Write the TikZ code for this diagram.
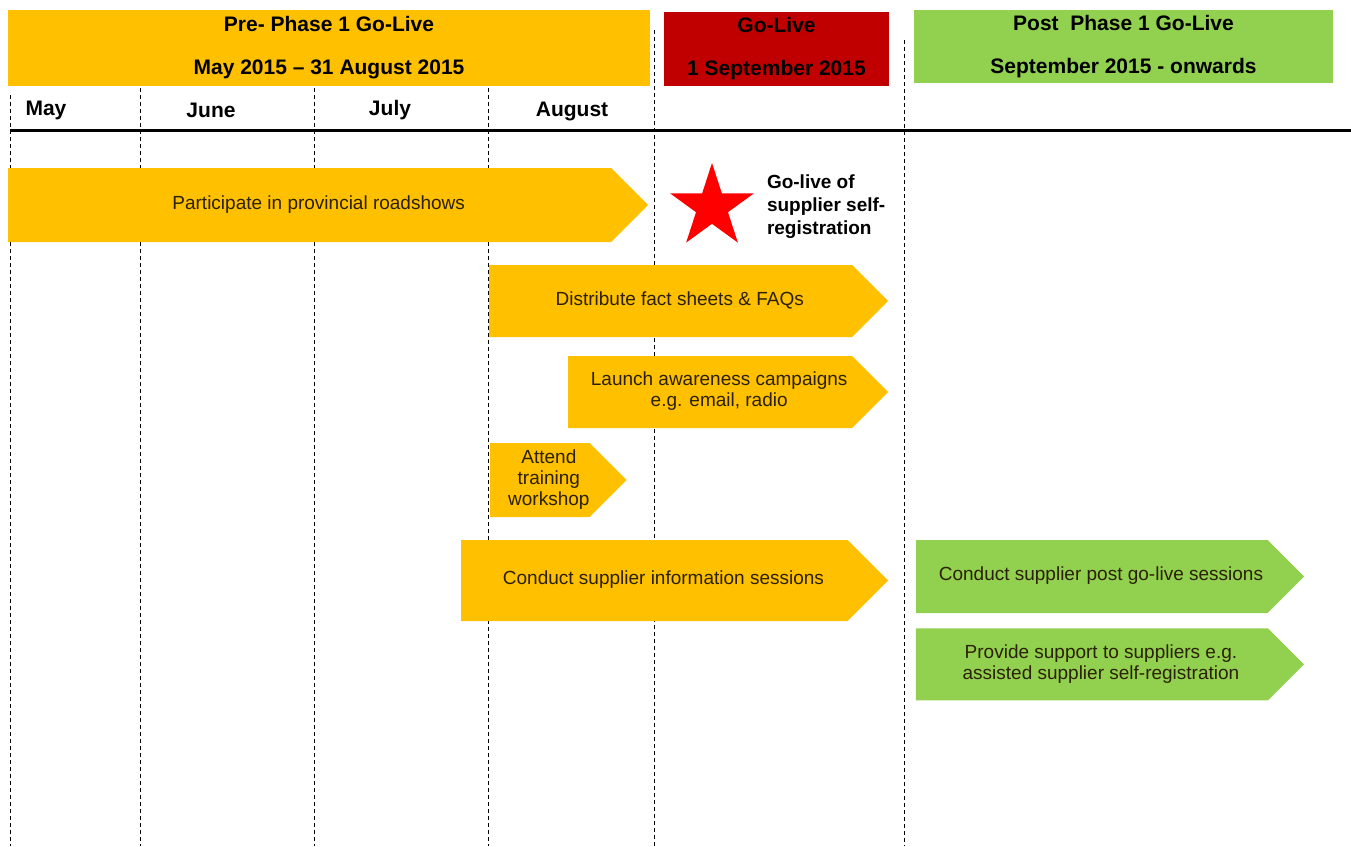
\documentclass[tikz,border=0pt]{standalone}
\usepackage{fontspec}
\setmainfont{Liberation Sans}
\usetikzlibrary{shapes, positioning}
\definecolor{phaseyellow}{HTML}{FFC000}
\definecolor{golivered}{HTML}{C00000}
\definecolor{postgreen}{HTML}{92D050}
\definecolor{tasktext}{HTML}{2B2100}
\newcommand{\tasklines}[1]{\hspace*{18pt}\begin{tabular}{@{}c@{}}#1\end{tabular}}

\begin{document}
\begin{tikzpicture}[x=1pt, y=-1pt, node distance=15pt,
    header/.style={rectangle, inner sep=0pt, align=center, font=\bfseries\fontsize{21}{43}\selectfont},
    month/.style={font=\bfseries\fontsize{21}{24}\selectfont},
    task/.style={signal, signal to=east, signal pointer angle=90, inner sep=0pt, text=tasktext, font=\fontsize{19}{21}\selectfont},
    grid/.style={dash pattern=on 4pt off 3pt, thin}]
    \useasboundingbox (0,0) rectangle (1351,846);

    % phase headers
    \node (pre) [header, fill=phaseyellow, minimum width=642pt, minimum height=76pt] at (329,48) {Pre- Phase 1 Go-Live\\May 2015 – 31 August 2015};
    \node (golive) [header, fill=golivered, minimum width=225pt, minimum height=74pt] at (776.5,49) {Go-Live\\1 September 2015};
    \node (post) [header, fill=postgreen, minimum width=419pt, minimum height=73pt] at (1123.5,46.5) {Post\ \ Phase 1 Go-Live\\September 2015 - onwards};

    % months
    \node (may) [month, anchor=west] at (22,110) {May};
    \node (june) [month] at (211,110) {June};
    \node (july) [month] at (390,110) {July};
    \node (aug) [month] at (572,111) {August};
    \draw [line width=3pt] (10,130) -- (1351,130);

    % month dividers
    \draw [grid] (10,95) -- (10,846);
    \draw [grid] (140,88) -- (140,846);
    \draw [grid] (314,88) -- (314,846);
    \draw [grid] (488,88) -- (488,846);
    \draw [grid] (654,30) -- (654,846);
    \draw [grid] (904,40) -- (904,846);

    % tasks
    \node (roadshows) [task, fill=phaseyellow, minimum width=640pt, minimum height=74pt, anchor=west] at (8,205) {\tasklines{Participate in provincial roadshows}};
    \node (star) [star, star points=5, star point ratio=2.618, fill=red, minimum size=88pt, inner sep=0pt] at (712,207) {};
    \node (starlabel) [right=28pt of star, align=left, font=\bfseries\fontsize{19}{23}\selectfont] {Go-live of\\supplier self-\\registration};
    \node (facts) [task, fill=phaseyellow, minimum width=399pt, minimum height=72pt, anchor=west] at (489,301) {\tasklines{Distribute fact sheets \& FAQs}};
    \node (campaigns) [task, fill=phaseyellow, minimum width=320pt, minimum height=72pt, anchor=west] at (568,392) {\tasklines{Launch awareness campaigns\\e.g. email, radio}};
    \node (training) [task, fill=phaseyellow, minimum width=133pt, minimum height=74pt, anchor=west] at (490,480) {\tasklines{Attend\\training\\workshop}};
    \node (infosessions) [task, fill=phaseyellow, minimum width=427pt, minimum height=81pt, anchor=west] at (461,580.5) {\tasklines{Conduct supplier information sessions}};
    \node (postsessions) [task, fill=postgreen, minimum width=388pt, minimum height=73pt, anchor=west] at (916,576.5) {\tasklines{Conduct supplier post go-live sessions}};
    \node (support) [task, fill=postgreen, minimum width=388pt, minimum height=72pt, below=15pt of postsessions] {\tasklines{Provide support to suppliers e.g.\\assisted supplier self-registration}};
\end{tikzpicture}
\end{document}
